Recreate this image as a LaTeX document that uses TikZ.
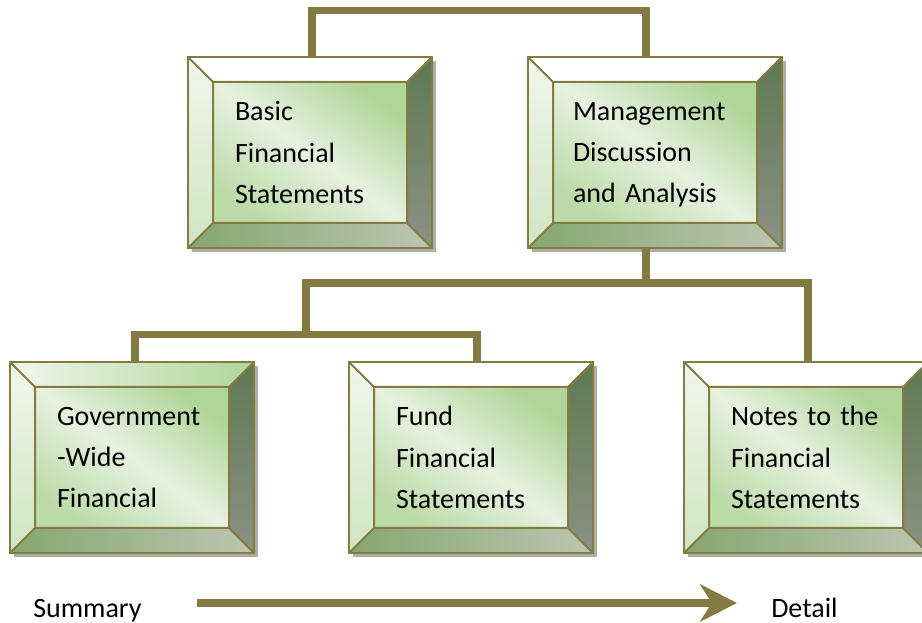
\documentclass[tikz,border=0pt]{standalone}
\usepackage{fontspec}
\setmainfont{Carlito}
\usepackage{tikz}
\usetikzlibrary{arrows.meta}
\usetikzlibrary{calc}
\usetikzlibrary{shadows}
\definecolor{bark}{HTML}{857A41}
\definecolor{shadowgray}{HTML}{A7B0A1}
\definecolor{faceA}{HTML}{B0D599}
\definecolor{faceB}{HTML}{E7F1E0}
\definecolor{faceC}{HTML}{BDDBA9}
\definecolor{leftA}{HTML}{F0F6EC}
\definecolor{leftB}{HTML}{CFE5C1}
\definecolor{rightA}{HTML}{5E7951}
\definecolor{rightB}{HTML}{8B9285}
\definecolor{botA}{HTML}{86A771}
\definecolor{botB}{HTML}{BCC5B1}
\def\bev{18.75pt}
\tikzset{
    topface/.style={fill=white},
    panel/.style={draw=bark, line width=1.5pt, inner sep=0pt,
        minimum width=183pt, minimum height=143.25pt,
        text width=112.5pt, align=left, font=\fontsize{21}{31}\selectfont,
        drop shadow={shadow xshift=3pt, shadow yshift=-3pt, fill=shadowgray, opacity=1},
        path picture={
            \coordinate (NW) at (path picture bounding box.north west);
            \coordinate (NE) at (path picture bounding box.north east);
            \coordinate (SW) at (path picture bounding box.south west);
            \coordinate (SE) at (path picture bounding box.south east);
            \coordinate (nw) at ($(NW)+(\bev,-\bev)$);
            \coordinate (ne) at ($(NE)+(-\bev,-\bev)$);
            \coordinate (sw) at ($(SW)+(\bev,\bev)$);
            \coordinate (se) at ($(SE)+(-\bev,\bev)$);
            \path[topface] (NW) -- (NE) -- (ne) -- (nw) -- cycle;
            \shade[top color=leftA, bottom color=leftB] (NW) -- (nw) -- (sw) -- (SW) -- cycle;
            \shade[top color=rightA, bottom color=rightB] (NE) -- (SE) -- (se) -- (ne) -- cycle;
            \shade[left color=botA, right color=botB] (SW) -- (sw) -- (se) -- (SE) -- cycle;
            \shade[top color=faceA, bottom color=faceC, middle color=faceB, shading angle=-36] (nw) rectangle (se);
            \draw[bark, line width=1.5pt] (nw) rectangle (se) (NW) -- (nw) (NE) -- (ne) (SW) -- (sw) (SE) -- (se);
        }},
    link/.style={draw=bark, line width=5.5pt},
    lbl/.style={inner sep=0pt, font=\fontsize{21}{25}\selectfont}
}

\begin{document}
\begin{tikzpicture}[x=0.75pt, y=-0.75pt]
    \useasboundingbox (0,0) rectangle (922,623);
    \clip (0,0) rectangle (922,623);

    \node[panel] (basic) at (310,152.5) {Basic\\Financial\\Statements};
    \node[panel, minimum width=190.5pt, text width=123pt] (mda) at (655,152.5) {Management\\Discussion\\\smash{and Analysis}};
    \node[panel, topface/.style={left color=leftA, right color=faceA}] (gov) at (132,457.5) {Government\\-Wide\\Financial};
    \node[panel] (fund) at (471,457.5) {Fund\\Financial\\Statements};
    \node[panel] (notes) at (806,457.5) {Notes to the\\Financial\\Statements};

    \coordinate (top) at (480,10.5);
    \coordinate (hub) at (646,283);
    \coordinate (fork) at (306,334.5);
    \draw[link] ($(basic.north)+(2,0)$) |- (top) -| ($(mda.north)+(-9,0)$);
    \draw[link] ($(mda.south)+(-9,0)$) -- (hub);
    \draw[link] (fork) |- (hub) -| ($(notes.north)+(2,0)$);
    \draw[link] ($(gov.north)+(3,0)$) |- (fork) -| ($(fund.north)+(6,0)$);

    \node[lbl, anchor=base west] (sum) at (33,618) {Summary};
    \node[lbl, anchor=base west] (det) at (771,618) {Detail};
    \coordinate (from) at (197,603);
    \coordinate (to) at (737,603);
    \draw[link, line width=6pt, -{Stealth[length=27.75pt, width=28pt, inset=9pt]}] (from) -- (to);
\end{tikzpicture}
\end{document}
